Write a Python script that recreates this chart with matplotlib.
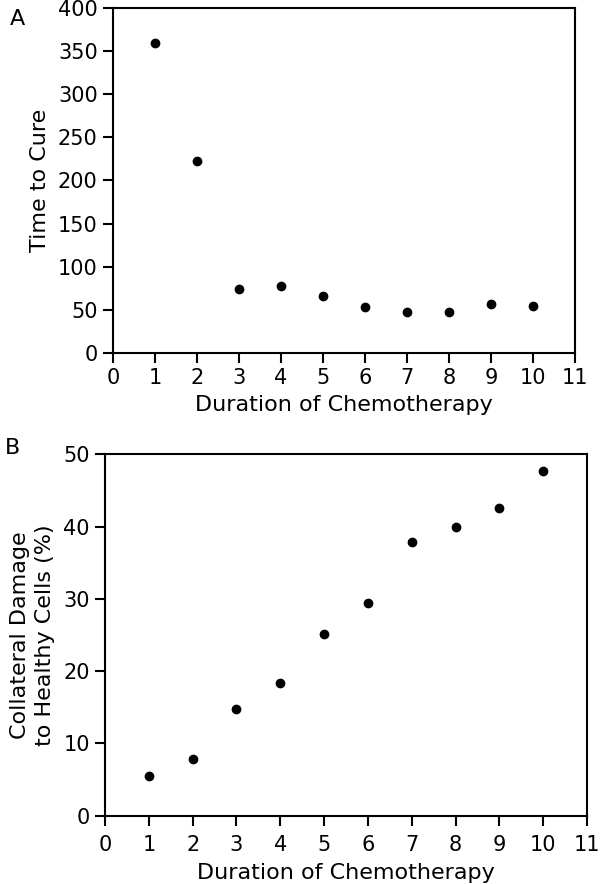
import matplotlib.pyplot as plt

# duration of chemotherapy
duration = [1, 2, 3, 4, 5, 6, 7, 8, 9, 10]
# panel A: time to cure
time_to_cure = [359, 223, 74, 78, 66, 53, 47, 48, 57, 54]
# panel B: collateral damage (%)
damage = [5.5, 7.8, 14.7, 18.3, 25.2, 29.4, 37.8, 39.9, 42.5, 47.7]

plt.rcParams['font.family'] = 'DejaVu Sans'
plt.rcParams['font.size'] = 15

fig = plt.figure(figsize=(6, 8.84), dpi=100)

# Panel A
ax1 = fig.add_axes([0.1883, 0.6007, 0.77, 0.3903])
ax1.plot(duration, time_to_cure, 'o', color='black', ms=6)
ax1.set_xlim(0, 11)
ax1.set_ylim(0, 400)
ax1.set_xticks(range(0, 12))
ax1.set_yticks(range(0, 401, 50))
ax1.set_xlabel('Duration of Chemotherapy', fontsize=16, labelpad=5)
ax1.set_ylabel('Time to Cure', fontsize=16, labelpad=6)
fig.text(0.017, 0.99, 'A', fontsize=16, va='top', ha='left')

# Panel B
ax2 = fig.add_axes([0.175, 0.0773, 0.8033, 0.4088])
ax2.plot(duration, damage, 'o', color='black', ms=6)
ax2.set_xlim(0, 11)
ax2.set_ylim(0, 50)
ax2.set_xticks(range(0, 12))
ax2.set_yticks(range(0, 51, 10))
ax2.set_xlabel('Duration of Chemotherapy', fontsize=16, labelpad=6)
ax2.set_ylabel('Collateral Damage\nto Healthy Cells (%)', fontsize=16,
               labelpad=6, linespacing=1.3)
fig.text(0.008, 0.505, 'B', fontsize=16, va='top', ha='left')

for ax in (ax1, ax2):
    for s in ax.spines.values():
        s.set_linewidth(1.5)
    ax.tick_params(direction='out', length=7, width=1.5, labelsize=15, pad=4)
ax2.tick_params(axis='x', pad=7)

fig.savefig('out.png', dpi=100)
